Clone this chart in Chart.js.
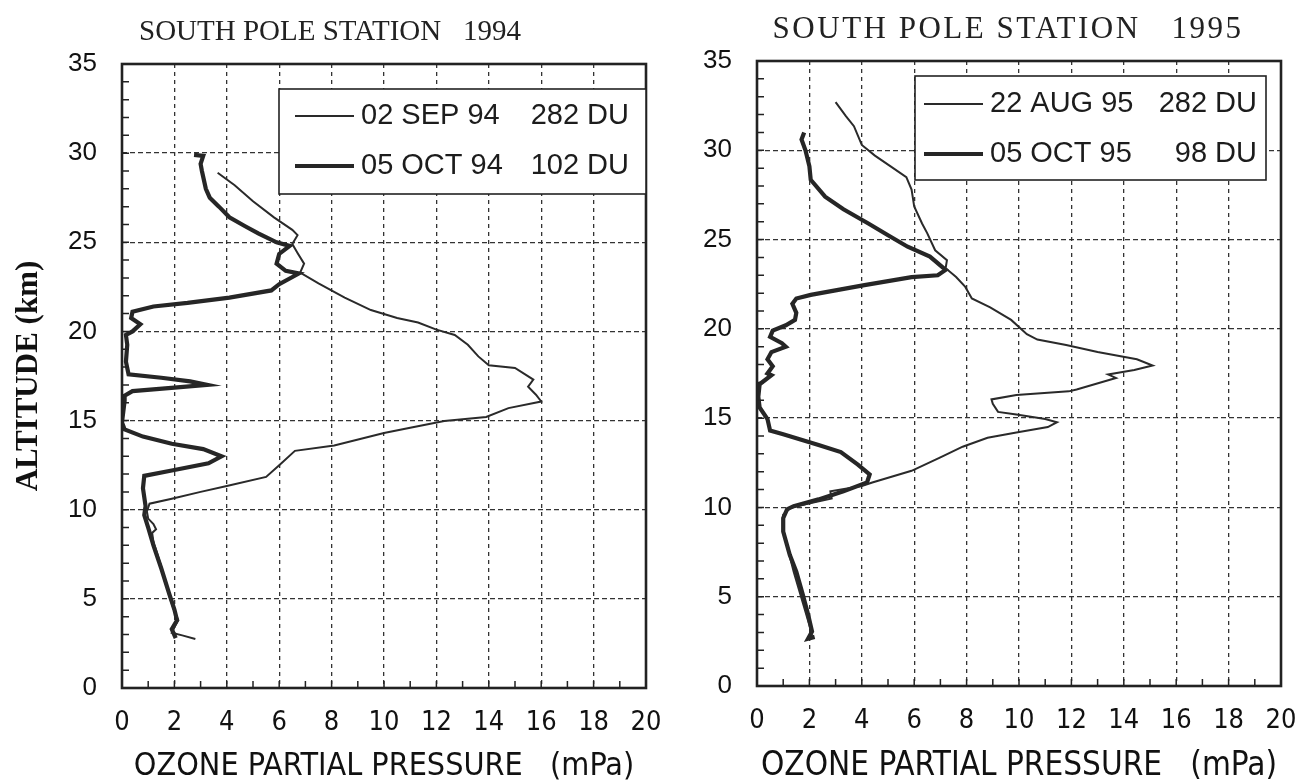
<!DOCTYPE html>
<html>
<head>
<meta charset="utf-8">
<title>South Pole ozone profiles</title>
<script src="https://cdn.jsdelivr.net/npm/chart.js@4"></script>
<style>
  html, body { margin: 0; padding: 0; background: #fff; }
  .panel { position: absolute; top: 0; }
  #left { left: 0; }
  #right { left: 665px; }
</style>
</head>
<body>
<div class="panel" id="left"><canvas id="chart94" width="665" height="783"></canvas></div>
<div class="panel" id="right"><canvas id="chart95" width="636" height="783"></canvas></div>
<script>
// ozone partial pressure (mPa) against altitude (km), read top of profile to bottom
const sep94Ozone = [3.65, 4.3, 5.0, 5.8, 6.5, 6.7, 6.5, 6.7, 6.95, 6.8, 7.5, 8.5, 9.5, 10.5, 11.3, 12.0, 12.7, 13.2, 13.6, 14.0, 15.0, 15.7, 15.5, 15.8, 16.0, 14.75, 13.9, 12.3, 11.0, 10.0, 8.1, 6.6, 6.0, 5.5, 4.0, 3.0, 1.9, 1.05, 0.95, 1.0, 1.2, 1.3, 1.15, 1.2, 1.5, 1.8, 2.0, 2.15, 2.0, 1.9, 2.3, 2.8];
const sep94Alt   = [28.9, 28.2, 27.3, 26.4, 25.7, 25.4, 24.9, 24.4, 23.8, 23.3, 22.7, 21.9, 21.2, 20.75, 20.5, 20.1, 19.8, 19.25, 18.6, 18.1, 17.95, 17.3, 16.9, 16.45, 16.07, 15.7, 15.2, 14.98, 14.6, 14.3, 13.6, 13.3, 12.5, 11.84, 11.33, 11.0, 10.62, 10.34, 9.9, 9.5, 9.2, 8.9, 8.7, 8.2, 6.8, 5.2, 4.3, 3.8, 3.4, 3.1, 2.95, 2.75];

const oct94Ozone = [2.75, 3.1, 3.0, 3.05, 3.2, 3.35, 3.7, 4.1, 4.7, 5.2, 5.9, 6.4, 6.0, 5.9, 6.25, 6.75, 6.0, 5.7, 4.1, 2.5, 1.2, 0.4, 0.35, 0.7, 0.4, 0.15, 0.2, 0.15, 0.25, 1.5, 2.6, 3.25, 2.0, 0.4, 0.1, 0.1, 0.0, 0.1, 0.8, 1.9, 3.1, 3.8, 3.3, 1.9, 0.85, 0.8, 0.9, 0.85, 1.0, 1.2, 1.5, 1.8, 2.0, 2.1, 1.9, 2.05];
const oct94Alt   = [29.9, 29.85, 29.4, 29.0, 28.0, 27.5, 27.0, 26.4, 25.9, 25.5, 25.0, 24.8, 24.35, 23.8, 23.4, 23.25, 22.65, 22.3, 21.9, 21.6, 21.4, 21.1, 20.75, 20.4, 20.0, 19.8, 19.25, 18.3, 17.6, 17.4, 17.2, 17.0, 16.85, 16.65, 16.4, 16.1, 14.9, 14.5, 14.1, 13.7, 13.4, 13.0, 12.6, 12.2, 11.9, 11.2, 10.2, 9.7, 9.0, 8.0, 6.7, 5.3, 4.4, 3.8, 3.3, 2.8];

const aug95Ozone = [3.0, 3.4, 3.7, 4.0, 4.5, 5.1, 5.7, 5.9, 6.0, 6.3, 6.5, 6.8, 7.25, 7.2, 7.6, 7.95, 8.2, 8.9, 9.7, 10.3, 10.7, 11.8, 13.0, 14.5, 15.1, 14.4, 13.4, 13.7, 12.2, 11.9, 9.9, 8.95, 9.0, 9.2, 9.9, 11.0, 11.45, 11.1, 9.9, 8.8, 7.85, 7.0, 5.9, 4.4, 4.0, 2.8, 2.85, 2.1, 1.3, 1.0, 1.0, 1.4, 1.7, 2.0, 2.1];
const aug95Alt   = [32.7, 31.9, 31.35, 30.3, 29.7, 29.1, 28.5, 27.8, 26.85, 25.9, 25.35, 24.4, 23.85, 23.4, 22.9, 22.35, 21.7, 21.2, 20.5, 19.7, 19.4, 19.1, 18.7, 18.3, 17.95, 17.7, 17.45, 17.25, 16.6, 16.5, 16.3, 16.05, 15.8, 15.35, 15.2, 14.95, 14.77, 14.5, 14.2, 13.9, 13.4, 12.8, 12.05, 11.4, 11.2, 10.9, 10.5, 10.26, 10.0, 9.6, 8.7, 6.4, 4.9, 3.4, 2.85];

const oct95Ozone = [1.8, 1.7, 1.85, 2.0, 2.05, 2.6, 3.3, 4.25, 5.05, 5.75, 6.6, 7.2, 6.9, 5.9, 4.1, 2.05, 1.5, 1.35, 1.5, 1.45, 1.1, 0.6, 0.5, 0.95, 1.1, 0.55, 0.4, 0.6, 0.4, 0.55, 0.1, 0.05, 0.1, 0.4, 0.5, 1.0, 2.35, 3.2, 3.85, 4.3, 4.2, 3.3, 2.35, 1.4, 1.15, 1.0, 1.0, 1.25, 1.5, 1.75, 1.95, 2.1, 1.95, 2.2];
const oct95Alt   = [31.0, 30.6, 30.0, 29.1, 28.35, 27.4, 26.7, 25.9, 25.2, 24.6, 24.05, 23.3, 23.0, 22.9, 22.45, 21.9, 21.7, 21.4, 20.9, 20.5, 20.2, 19.9, 19.55, 19.2, 19.0, 18.7, 18.3, 17.9, 17.5, 17.4, 16.9, 16.2, 15.6, 14.95, 14.3, 14.1, 13.5, 13.1, 12.4, 11.85, 11.4, 10.9, 10.45, 10.07, 9.9, 9.4, 8.65, 7.35, 6.4, 5.1, 4.0, 3.05, 2.65, 2.75];

const labels94 = ["02 SEP 94", "05 OCT 94"];
const totals94 = ["282 DU", "102 DU"];
const labels95 = ["22 AUG 95", "05 OCT 95"];
const totals95 = ["282 DU", "98 DU"];
const stationTitles = ["SOUTH POLE STATION   1994", "SOUTH POLE STATION   1995"];

const pressureTicks = [0, 2, 4, 6, 8, 10, 12, 14, 16, 18, 20];
const altitudeTicks = [0, 5, 10, 15, 20, 25, 30, 35];

const INK = "#222";

function toPoints(xs, ys) {
  return xs.map((v, i) => ({ x: v, y: ys[i] }));
}

// frame, inner minor ticks, boxed legend and the panel heading
const panelFrame = {
  id: "panelFrame",
  afterDraw(chart, args, opts) {
    const { ctx, chartArea: a } = chart;
    const xs = chart.scales.x, ys = chart.scales.y;
    ctx.save();

    ctx.strokeStyle = INK;
    ctx.lineWidth = 1.5;
    ctx.beginPath();
    for (let v = 1; v < 35; v++) {
      const py = ys.getPixelForValue(v);
      ctx.moveTo(a.left, py);
      ctx.lineTo(a.left + 7, py);
    }
    for (let v = 1; v < 20; v++) {
      const px = xs.getPixelForValue(v);
      ctx.moveTo(px, a.bottom);
      ctx.lineTo(px, a.bottom - 7);
    }
    ctx.stroke();

    ctx.lineWidth = 2.6;
    ctx.strokeRect(a.left, a.top, a.right - a.left, a.bottom - a.top);

    const b = opts.box;
    const bx = a.left + b.left, by = a.top + b.top;
    ctx.fillStyle = "#fff";
    ctx.fillRect(bx, by, b.width, b.height);
    ctx.lineWidth = 1.6;
    ctx.strokeRect(bx, by, b.width, b.height);

    ctx.font = "29px 'Liberation Sans', Arial, sans-serif";
    ctx.fillStyle = "#1c1c1c";
    ctx.textBaseline = "middle";
    chart.data.datasets.forEach((ds, i) => {
      const ry = by + b.rowY[i];
      ctx.lineWidth = ds.borderWidth;
      ctx.strokeStyle = ds.borderColor;
      ctx.beginPath();
      ctx.moveTo(bx + b.lineFrom, ry);
      ctx.lineTo(bx + b.lineTo, ry);
      ctx.stroke();
      ctx.textAlign = "left";
      ctx.fillText(ds.label, bx + b.textX, ry);
      ctx.textAlign = "right";
      ctx.fillText(opts.totals[i], bx + b.totalX, ry);
    });

    ctx.font = opts.titleSize + "px 'Liberation Serif', 'Times New Roman', serif";
    ctx.letterSpacing = opts.titleSpacing;
    ctx.textAlign = "center";
    ctx.fillStyle = INK;
    ctx.fillText(opts.title, opts.titleX, opts.titleY);
    ctx.restore();
  }
};

function buildPanel(canvasId, p) {
  const narrow = "'Liberation Sans Narrow', 'DejaVu Sans Condensed', 'Liberation Sans', sans-serif";
  return new Chart(document.getElementById(canvasId), {
    type: "scatter",
    data: {
      datasets: [
        {
          label: p.labels[0],
          data: toPoints(p.thinOzone, p.thinAlt),
          showLine: true,
          borderColor: "#2a2a2a",
          borderWidth: 2,
          pointRadius: 0,
          tension: 0
        },
        {
          label: p.labels[1],
          data: toPoints(p.thickOzone, p.thickAlt),
          showLine: true,
          borderColor: "#262626",
          borderWidth: 4.2,
          pointRadius: 0,
          tension: 0
        }
      ]
    },
    options: {
      responsive: false,
      animation: false,
      events: [],
      layout: { padding: { top: p.top, right: p.right, left: 0, bottom: 0 } },
      plugins: {
        legend: { display: false },
        tooltip: { enabled: false },
        panelFrame: {
          title: p.title,
          titleSize: p.titleSize,
          titleSpacing: p.titleSpacing,
          titleX: p.titleX,
          titleY: p.titleY,
          totals: p.totals,
          box: p.box
        }
      },
      scales: {
        x: {
          type: "linear",
          min: 0,
          max: 20,
          afterBuildTicks: s => { s.ticks = pressureTicks.map(v => ({ value: v })); },
          afterFit: s => { s.height = p.xAxisHeight; },
          // invisible tick marks push the labels down without widening the side padding
          grid: { color: "#333", lineWidth: 1.3, drawTicks: true, tickLength: 21, tickColor: "rgba(0,0,0,0)" },
          border: { display: false, dash: [4, 4] },
          ticks: {
            padding: 0,
            color: "#111",
            font: { family: narrow, size: 27, lineHeight: 1 }
          },
          title: {
            display: true,
            text: "OZONE PARTIAL PRESSURE   (mPa)",
            color: "#111",
            font: { family: narrow, size: p.xTitleSize, lineHeight: 1 },
            padding: { top: 0, bottom: 0 }
          }
        },
        y: {
          type: "linear",
          min: 0,
          max: 35,
          afterBuildTicks: s => { s.ticks = altitudeTicks.map(v => ({ value: v })); },
          afterFit: s => { s.width = p.yAxisWidth; },
          grid: { color: "#333", lineWidth: 1.3, drawTicks: false },
          border: { display: false, dash: [5, 3] },
          ticks: {
            padding: 25,
            color: "#111",
            font: { family: "'Liberation Sans', Arial, sans-serif", size: 26, lineHeight: 1 }
          },
          title: {
            display: p.showAltTitle,
            text: "ALTITUDE (km)",
            color: "#111",
            font: { family: "'Liberation Serif', 'Times New Roman', serif", size: 31, weight: "bold", lineHeight: 1 },
            padding: { top: 13, bottom: 0 }
          }
        }
      }
    },
    plugins: [panelFrame]
  });
}

buildPanel("chart94", {
  labels: labels94,
  totals: totals94,
  title: stationTitles[0],
  titleSize: 29, titleSpacing: "0px",
  thinOzone: sep94Ozone, thinAlt: sep94Alt,
  thickOzone: oct94Ozone, thickAlt: oct94Alt,
  top: 64, right: 19, xAxisHeight: 95, yAxisWidth: 122, xTitleSize: 32,
  showAltTitle: true,
  titleX: 330, titleY: 32,
  box: { left: 157, top: 25, width: 367, height: 105, lineFrom: 16, lineTo: 75, textX: 82, totalX: 350, rowY: [27, 77] }
});

buildPanel("chart95", {
  labels: labels95,
  totals: totals95,
  title: stationTitles[1],
  titleSize: 31, titleSpacing: "2.5px",
  thinOzone: aug95Ozone, thinAlt: aug95Alt,
  thickOzone: oct95Ozone, thickAlt: oct95Alt,
  top: 61, right: 20, xAxisHeight: 97, yAxisWidth: 92, xTitleSize: 33,
  showAltTitle: false,
  titleX: 343, titleY: 30,
  box: { left: 158, top: 15, width: 351, height: 104, lineFrom: 9, lineTo: 68, textX: 75, totalX: 342, rowY: [28, 78] }
});
</script>
</body>
</html>
